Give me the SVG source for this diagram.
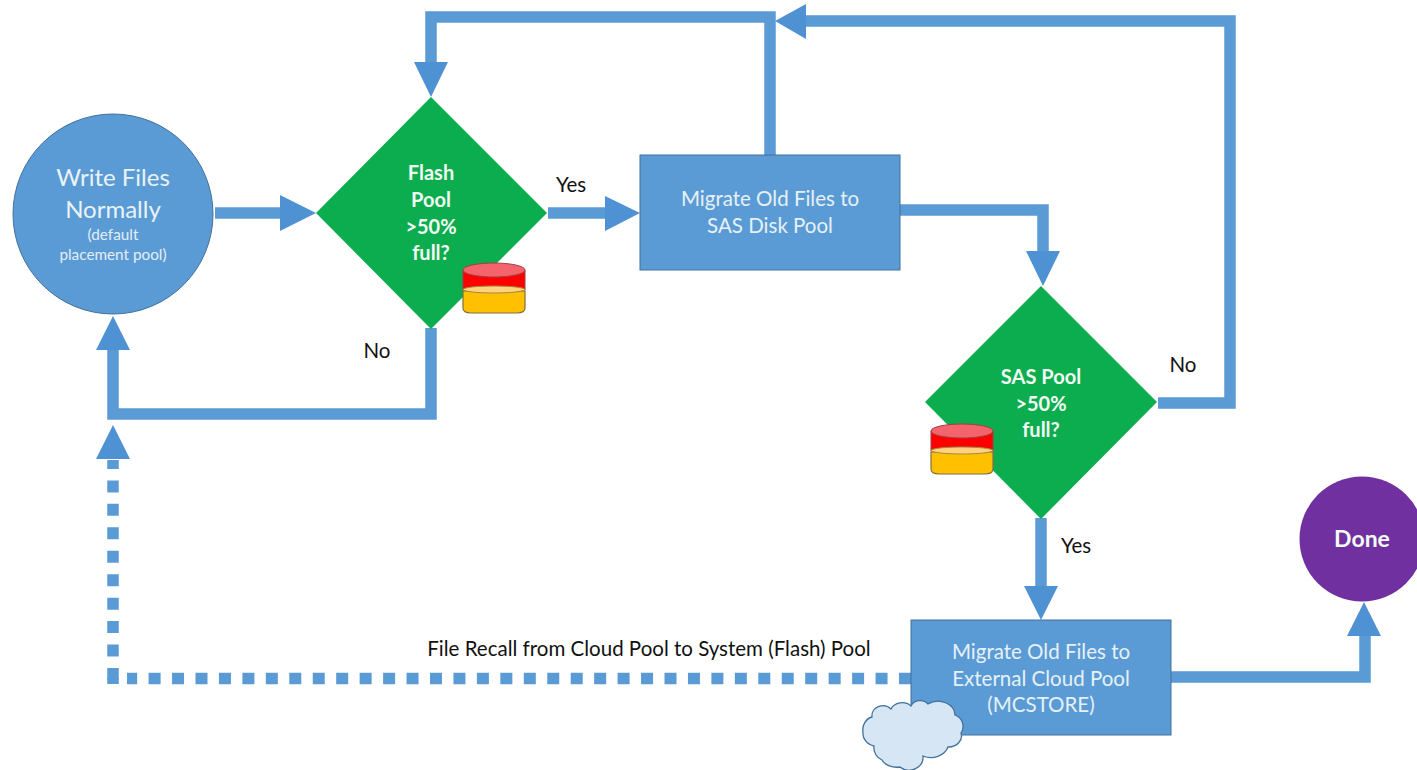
<svg xmlns="http://www.w3.org/2000/svg" width="1417" height="770" viewBox="0 0 1417 770">
<defs>
<style>
text{font-family:Lato,"Open Sans","Liberation Sans",sans-serif;text-anchor:middle}
.w{fill:#eaf3f8;font-size:24px}
.m{fill:#e6f1f7;font-size:20.5px}
.b{fill:#f2fbf4;font-size:20px;font-weight:700}
.s{fill:#e4edf5;font-size:15.3px}
.k{fill:#111;font-size:20.5px}
.c{fill:none;stroke:#5b9bd5;stroke-width:11.5}
.d{fill:none;stroke:#5b9bd5;stroke-width:11.5;stroke-dasharray:12 11.45}
.a{fill:#4f92d3}
.box{fill:#5b9bd5;stroke:#41719c;stroke-width:1}
.dia{fill:#0bad4f}
</style>
<g id="can"><path d="M0 29V46Q0 51 8 51H54Q62 51 62 46V29Z" fill="#ffc000" stroke="#7f7040" stroke-width="1.2"/><path d="M0 8V28H62V8Z" fill="#ff0000" stroke="#a04040" stroke-width="1"/><ellipse cx="31" cy="27.5" rx="31" ry="3.5" fill="#ffd27f" stroke="#a08a40" stroke-width="1"/><ellipse cx="31" cy="8" rx="31" ry="7" fill="#f4646c" stroke="#a04040" stroke-width="1"/></g>
</defs>
<rect width="1417" height="770" fill="#fff"/>
<g id="connectors">
<path class="c" d="M215 213H285"/><polygon class="a" points="280,195 316,213 280,231"/>
<path class="c" d="M548 213H610"/><polygon class="a" points="605,196 640,213 605,231"/>
<path class="c" d="M770 156V17H431V65"/><polygon class="a" points="414,62 448,62 431,97"/>
<path class="c" d="M900 210H1043V255"/><polygon class="a" points="1026,251 1060,251 1043,286"/>
<path class="c" d="M1158 403H1230V21H800"/><polygon class="a" points="806,4 806,39 775,21"/>
<path class="c" d="M431 328V414H113V345"/><polygon class="a" points="96,350 130,350 113,316"/>
<path class="c" d="M1041 518V590"/><polygon class="a" points="1024,586 1058,586 1041,620"/>
<path class="c" d="M1170 677H1365V635"/><polygon class="a" points="1347,636 1381,636 1364,602"/>
<path class="d" d="M911 678.5H127"/><path class="d" d="M113 680V460"/><path class="c" d="M113 678V684"/><polygon class="a" points="96,459 130,459 113,425"/>
</g>
<g id="write-files"><circle cx="113" cy="214" r="100" class="box"/><text class="w" x="113" y="186">Write Files</text><text class="w" x="113" y="218">Normally</text><text class="s" x="113" y="240">(default</text><text class="s" x="113" y="260">placement pool)</text></g>
<g id="flash-pool"><polygon class="dia" points="431,97 547,213 431,329 316,213"/><text class="b" x="431" y="180">Flash</text><text class="b" x="431" y="207">Pool</text><text class="b" x="431" y="234">&gt;50%</text><text class="b" x="431" y="260">full?</text><use href="#can" x="463" y="262"/></g>
<g id="migrate-sas"><rect x="640" y="155" width="260" height="115" class="box"/><text class="m" x="770" y="206">Migrate Old Files to</text><text class="m" x="770" y="233">SAS Disk Pool</text></g>
<g id="sas-pool"><polygon class="dia" points="1041,286 1157,402 1041,519 925,402"/><text class="b" x="1041" y="384">SAS Pool</text><text class="b" x="1041" y="411">&gt;50%</text><text class="b" x="1041" y="437">full?</text><use href="#can" x="931" y="423"/></g>
<g id="migrate-cloud"><rect x="911" y="620" width="260" height="115" class="box"/><text class="m" x="1041" y="659">Migrate Old Files to</text><text class="m" x="1041" y="686">External Cloud Pool</text><text class="m" x="1041" y="712">(MCSTORE)</text></g>
<g id="cloud"><path d="M872 717A11 10 0 0 1 891 709A12 10 0 0 1 911 706A10 9 0 0 1 928 704A17 14 0 0 1 955 715A12 12 0 0 1 961 733A13 11 0 0 1 948 747A18 15 0 0 1 923 756A14 13 0 0 1 900 767A16 12 0 0 1 882 760A12 13 0 0 1 874 746A14 13 0 0 1 863 732A12 13 0 0 1 872 717Z" fill="#d6e6f5" stroke="#41719c" stroke-width="1.3"/></g>
<g id="done"><circle cx="1362" cy="539" r="62.5" fill="#7030a0"/><text class="b" x="1362" y="547" style="font-size:23px">Done</text></g>
<g id="labels"><text class="k" x="571" y="192">Yes</text><text class="k" x="377" y="358">No</text><text class="k" x="1183" y="372">No</text><text class="k" x="1076" y="553">Yes</text><text class="k" x="649" y="656">File Recall from Cloud Pool to System (Flash) Pool</text></g>
</svg>
